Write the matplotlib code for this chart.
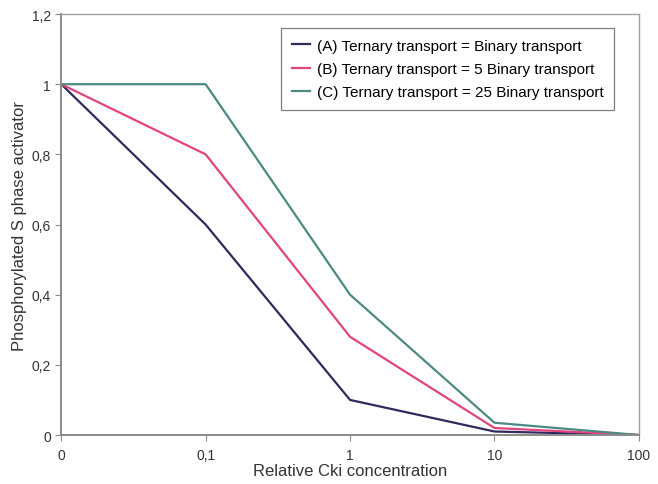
import numpy as np
import matplotlib
matplotlib.use("Agg")
import matplotlib.pyplot as plt

plt.rcParams['font.family'] = ['Liberation Sans', 'DejaVu Sans']

# x categories (evenly spaced, Excel-style line chart)
conc_labels = ['0', '0,1', '1', '10', '100']
series_a = [1.0, 0.6, 0.1, 0.01, 0.0]
series_b = [1.0, 0.8, 0.28, 0.02, 0.0]
series_c = [1.0, 1.0, 0.4, 0.035, 0.0]
names = ['(A) Ternary transport = Binary transport',
         '(B) Ternary transport = 5 Binary transport',
         '(C) Ternary transport = 25 Binary transport']
y_ticks = [0, 0.2, 0.4, 0.6, 0.8, 1, 1.2]
y_labels = ['0', '0,2', '0,4', '0,6', '0,8', '1', '1,2']

fig = plt.figure(figsize=(6.58, 4.85), dpi=100)
fig.patch.set_facecolor('white')
ax = fig.add_axes([0.093, 0.101, 0.878, 0.868])

x = np.arange(len(conc_labels))
ax.plot(x, series_a, color='#2e2b5c', lw=1.6, label=names[0])
ax.plot(x, series_b, color='#e2457e', lw=1.6, label=names[1])
ax.plot(x, series_c, color='#4c8a82', lw=1.6, label=names[2])

ax.set_xlim(0, len(conc_labels) - 1)
ax.set_ylim(0, 1.2)
ax.set_xticks(x)
ax.set_xticklabels(conc_labels)
ax.set_yticks(y_ticks)
ax.set_yticklabels(y_labels)
ax.tick_params(axis='both', colors='#8a8a8a', labelcolor='#333333', labelsize=10,
               length=4, direction='out')
ax.tick_params(axis='x', pad=5)

for s in ax.spines.values():
    s.set_color('#a0a0a0')
    s.set_linewidth(1.0)
ax.spines['left'].set_color('#8a8a8a')
ax.spines['bottom'].set_color('#8a8a8a')
ax.spines['left'].set_linewidth(1.4)
ax.spines['bottom'].set_linewidth(1.4)

ax.set_xlabel('Relative Cki concentration', fontsize=12, color='#333333', labelpad=1)
ax.set_ylabel('Phosphorylated S phase activator', fontsize=12, color='#333333', labelpad=3)

leg = ax.legend(loc='upper right', bbox_to_anchor=(0.97, 0.985), fontsize=11,
                frameon=True, fancybox=False, handlelength=1.2, handletextpad=0.4,
                borderpad=0.7, labelspacing=0.6)
leg.get_frame().set_edgecolor('#606060')
leg.get_frame().set_linewidth(0.9)

plt.savefig('out.png', dpi=100)
